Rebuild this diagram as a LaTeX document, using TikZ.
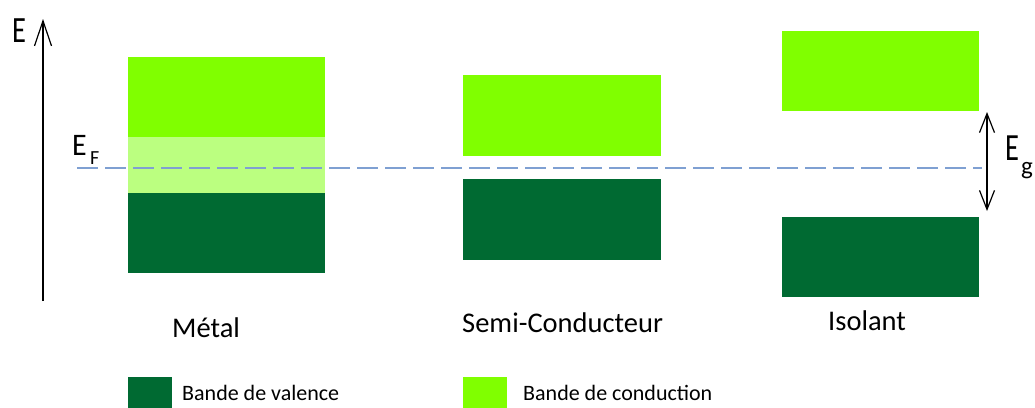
\documentclass[tikz,border=0pt]{standalone}
\usepackage{graphicx}
\usepackage{fontspec}
\setmainfont{Carlito}
\usetikzlibrary{arrows.meta}
\definecolor{cband}{HTML}{80FF00}
\definecolor{pband}{HTML}{BBFF80}
\definecolor{vband}{HTML}{006A32}
\definecolor{fermi}{HTML}{7FA0D2}
\begin{document}
\begin{tikzpicture}[x=1pt,y=-1pt,
  band/.style={inner sep=0pt,outer sep=0pt,anchor=north west,draw=none},
  cond/.style={band,fill=cband},
  part/.style={band,fill=pband},
  val/.style={band,fill=vband},
  lab/.style={inner sep=0pt,anchor=base west,font=\fontsize{28.5}{30}\selectfont},
  leg/.style={inner sep=0pt,anchor=base west,font=\fontsize{22}{24}\selectfont},
  sub/.style={inner sep=0pt,anchor=base west,font=\fontsize{20}{21}\selectfont},
  axisarrow/.style={line width=1.3pt,-{Straight Barb[length=25pt,width=17pt,line width=1.2pt]}},
  gaparrow/.style={line width=1.3pt,{Straight Barb[length=19pt,width=15pt,line width=1.2pt]}-{Straight Barb[length=19pt,width=15pt,line width=1.2pt]}},
  fermiline/.style={draw=fermi,line width=1.8pt,dash pattern=on 21pt off 7pt}]
\useasboundingbox (0,0) rectangle (1035,407);
% Metal
\node[cond,minimum width=197pt,minimum height=80pt] (mc) at (128,57) {};
\node[part,minimum width=197pt,minimum height=56pt] (mp) at (128,137) {};
\node[val,minimum width=197pt,minimum height=80pt] (mv) at (128,193) {};
% Semi-conducteur
\node[cond,minimum width=198pt,minimum height=81pt] (sc) at (463,75) {};
\node[val,minimum width=198pt,minimum height=81pt] (sv) at (463,179) {};
% Isolant
\node[cond,minimum width=197pt,minimum height=80pt] (ic) at (782,31) {};
\node[val,minimum width=197pt,minimum height=80pt] (iv) at (782,217) {};
% Fermi level
\coordinate (fl) at (77,168);
\coordinate (fr) at (982,168);
\draw[fermiline] (fl) -- (fr);
% Energy axis
\coordinate (ab) at (43,301);
\coordinate (at) at (43,19);
\draw[axisarrow] (ab) -- (at);
\node[lab] (elab) at (12,42) {\scalebox{1}[1.3]{E}};
\node[lab] (ef) at (72,155) {\scalebox{1.05}[1.1]{E}};
\node[sub] (efs) at (90,164) {F};
% Gap arrow
\coordinate (gt) at (987,112);
\coordinate (gb) at (987,211);
\draw[gaparrow] (gb) -- (gt);
\node[lab] (eg) at (1005,160) {\scalebox{1}[1.35]{E}};
\node[sub,font=\fontsize{25}{26}\selectfont] (egs) at (1021,174) {g};
% Labels
\node[lab] (lm) at (172,337) {Métal};
\node[lab] (ls) at (462,332) {Semi-Conducteur};
\node[lab] (li) at (828,330) {Isolant};
% Legend
\node[val,minimum width=44pt,minimum height=32pt] (kv) at (128,377) {};
\node[leg] (tv) at (182,400) {Bande de valence};
\node[cond,minimum width=44pt,minimum height=32pt] (kc) at (463,377) {};
\node[leg] (tc) at (523,400) {Bande de conduction};
\end{tikzpicture}
\end{document}
